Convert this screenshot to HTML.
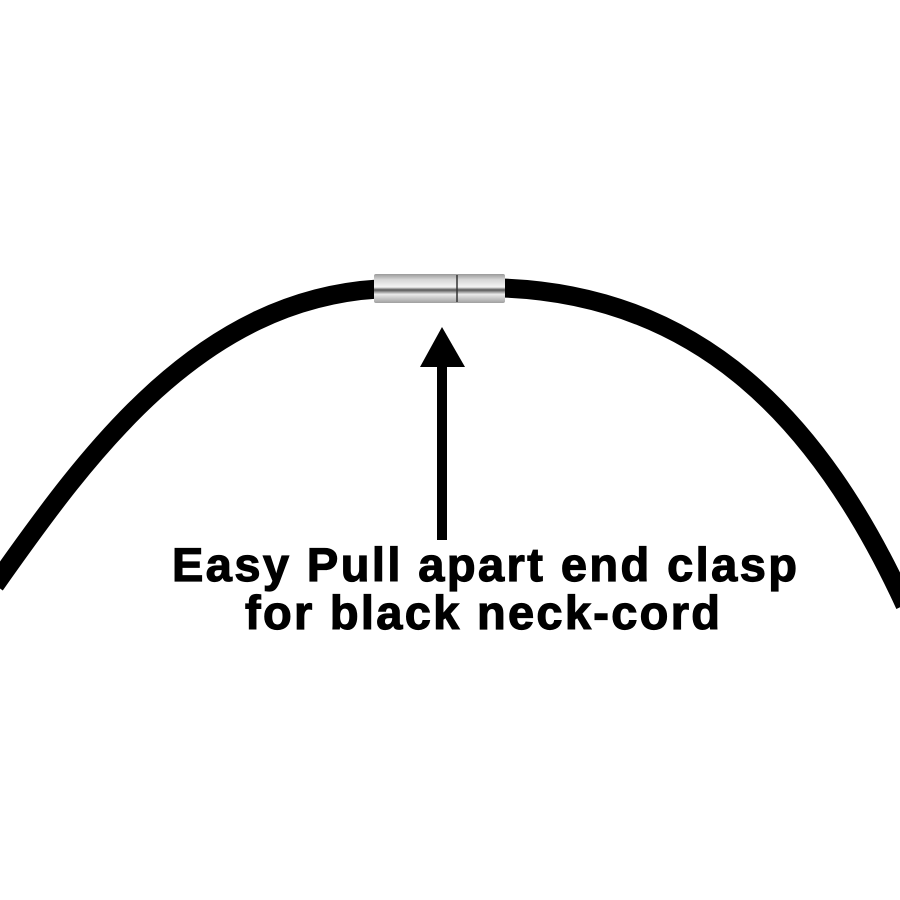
<!DOCTYPE html>
<html><head><meta charset="utf-8"><style>
html,body{margin:0;padding:0;background:#fff;}
svg{display:block;}
</style></head><body>
<svg width="900" height="900" viewBox="0 0 900 900" xmlns="http://www.w3.org/2000/svg">
<defs>
<linearGradient id="m" x1="0" y1="0" x2="0" y2="1">
<stop offset="0" stop-color="#9a9a9a"/>
<stop offset="0.2" stop-color="#d8d8d8"/>
<stop offset="0.45" stop-color="#f4f4f4"/>
<stop offset="0.55" stop-color="#555"/>
<stop offset="0.7" stop-color="#eaeaea"/>
<stop offset="1" stop-color="#a0a0a0"/>
</linearGradient>
</defs>
<path d="M -5 585 C 90 450, 200 300, 378 289" fill="none" stroke="#000" stroke-width="19"/>
<path d="M 502 288 C 700 295, 820 420, 905 605" fill="none" stroke="#000" stroke-width="19"/>
<rect x="374" y="274" width="131" height="29" rx="2" fill="url(#m)"/>
<line x1="457" y1="275" x2="457" y2="302" stroke="#333" stroke-width="1.5"/>
<polygon points="442,327 420,367 465,367" fill="#000"/>
<rect x="437" y="360" width="10" height="180" fill="#000"/>
<g font-family="Liberation Sans, Arial, sans-serif" font-weight="bold" font-size="47" fill="#000" stroke="#000" stroke-width="1.2">
<text x="172" y="581" textLength="625" lengthAdjust="spacing">Easy Pull apart end clasp</text>
<text x="245" y="629" textLength="475" lengthAdjust="spacing">for black neck-cord</text>
</g>
</svg>
</body></html>
